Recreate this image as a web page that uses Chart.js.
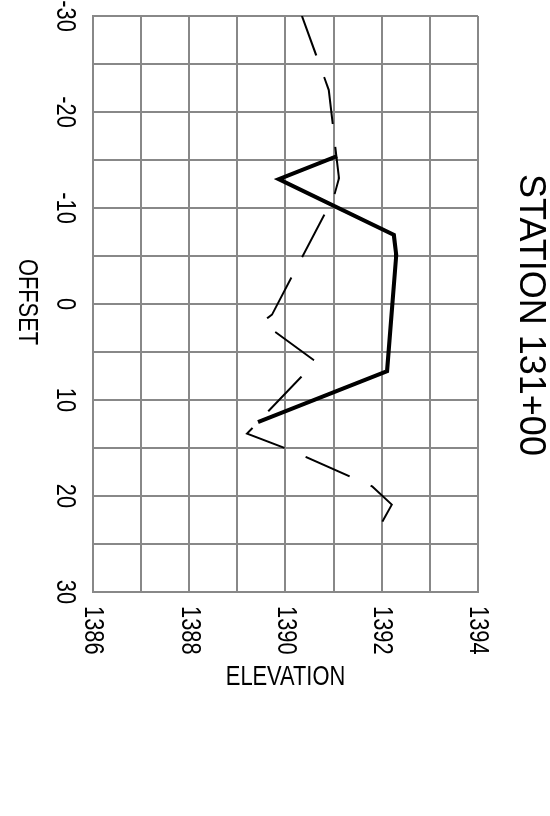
<!DOCTYPE html>
<html>
<head>
<meta charset="utf-8">
<script src="https://cdn.jsdelivr.net/npm/chart.js@4/dist/chart.umd.min.js"></script>
<style>
  html, body { margin: 0; padding: 0; background: #fff; overflow: hidden; }
  #wrap { position: relative; width: 550px; height: 816px; }
  /* chart is drawn landscape, then turned a quarter clockwise */
  #chartSection { position: absolute; left: 550px; top: 0; transform-origin: 0 0; transform: rotate(90deg); }
</style>
</head>
<body>
<div id="wrap">
  <canvas id="chartSection" width="816" height="550"></canvas>
</div>
<script>
"use strict";
const chartTitle = "STATION 131+00";
const offsetTitle = "OFFSET";
const elevationTitle = "ELEVATION";

// existing ground (thick solid)
const solidOffsets = [-15.4, -13.0, -7.2, -5.1, 7.0, 12.3];
const solidElevations = [1391.07, 1389.86, 1392.25, 1392.30, 1392.11, 1389.43];

// second profile (thin dashed)
const dashedOffsets = [-30, -22.3, -13.1, -11.25, 1.1, 1.9, 6.0, 13.5, 15.3, 19.0, 20.9, 22.7];
const dashedElevations = [1390.34, 1390.90, 1391.11, 1391.01, 1389.72, 1389.51, 1390.63, 1389.20, 1390.14, 1391.80, 1392.21, 1392.01];

const offsetTicks = [-30, -20, -10, 0, 10, 20, 30];
const elevationTicks = [1386, 1388, 1390, 1392, 1394];

const baseFont = "'Liberation Sans', Arial, sans-serif";

function toPoints(xs, ys) {
    const pts = [];
    for (let i = 0; i < xs.length; i++) {
        pts.push({ x: xs[i], y: ys[i] });
    }
    return pts;
}

// narrow lettering: squeeze the text along its reading direction
function drawNarrow(ctx, text, x, y, align, angle) {
    ctx.save();
    ctx.translate(x, y);
    if (angle) ctx.rotate(angle);
    ctx.scale(0.78, 1);
    ctx.textAlign = align;
    ctx.fillText(text, 0, 0);
    ctx.restore();
}

const sideText = {
    id: 'sideText',
    afterDraw(chart) {
        const ctx = chart.ctx;
        const area = chart.chartArea;
        const xs = chart.scales.x;
        const ys = chart.scales.y;
        ctx.save();
        ctx.fillStyle = '#000';
        ctx.textBaseline = 'middle';
        ctx.font = "36px " + baseFont;
        ctx.textAlign = 'center';
        ctx.fillText(chartTitle, 315, 20);

        ctx.font = "28px " + baseFont;
        offsetTicks.forEach(function (v) {
            drawNarrow(ctx, String(v), xs.getPixelForValue(v), 485, 'center');
        });
        elevationTicks.forEach(function (v) {
            drawNarrow(ctx, String(v), 606, ys.getPixelForValue(v), 'left');
        });
        drawNarrow(ctx, offsetTitle, 302, 523, 'center');
        drawNarrow(ctx, elevationTitle, 677, (area.top + area.bottom) / 2, 'center', -Math.PI / 2);
        ctx.restore();
    }
};

const context = document.getElementById('chartSection');
const sectionChart = new Chart(context, {
    type: 'line',
    data: {
        datasets: [{
            label: 'solid',
            data: toPoints(solidOffsets, solidElevations),
            borderColor: '#000',
            borderWidth: 4,
            pointRadius: 0,
            fill: false,
            tension: 0
        }, {
            label: 'dashed',
            data: toPoints(dashedOffsets, dashedElevations),
            borderColor: '#000',
            borderWidth: 2,
            borderDash: [48, 23],
            borderDashOffset: 6,
            pointRadius: 0,
            fill: false,
            tension: 0
        }]
    },
    options: {
        responsive: false,
        devicePixelRatio: 1,
        animation: false,
        layout: { padding: { top: 72, left: 16, right: 0, bottom: 0 } },
        plugins: {
            legend: { display: false },
            tooltip: { enabled: false },
            title: { display: false }
        },
        scales: {
            x: {
                type: 'linear',
                position: 'bottom',
                min: offsetTicks[0],
                max: offsetTicks[offsetTicks.length - 1],
                afterFit: function (scale) { scale.height = 93; },
                grid: { color: '#888', lineWidth: 2, drawTicks: false },
                border: { color: '#888', width: 2 },
                ticks: { stepSize: 5, display: false }
            },
            y: {
                type: 'linear',
                position: 'right',
                min: elevationTicks[0],
                max: elevationTicks[elevationTicks.length - 1],
                afterFit: function (scale) { scale.width = 224; },
                grid: { color: '#888', lineWidth: 2, drawTicks: false },
                border: { color: '#888', width: 2 },
                ticks: { stepSize: 1, display: false }
            }
        }
    },
    plugins: [sideText]
});
</script>
</body>
</html>
